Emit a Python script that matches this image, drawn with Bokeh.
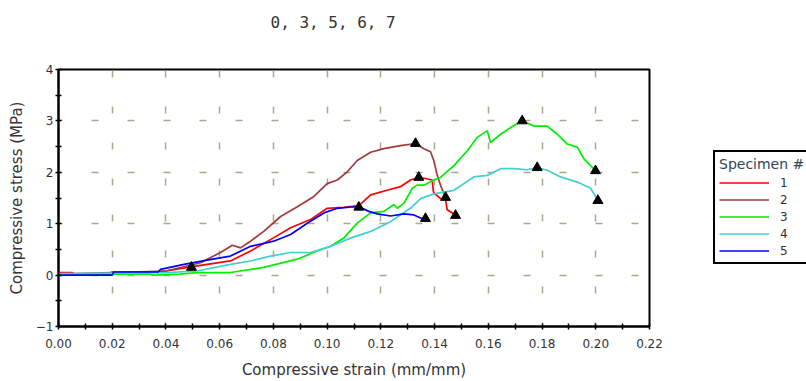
from bokeh.plotting import figure
from bokeh.layouts import row
from bokeh.models import (FixedTicker, Legend, LegendItem, NumeralTickFormatter, Range1d, Title)
from bokeh.embed import file_html
from bokeh.resources import INLINE

# ---- data ----
specimen_labels = ["1", "2", "3", "4", "5"]
series_colors = ["#ff0000", "#a33a3a", "#00ee00", "#40d0d0", "#0000ff"]

s1_x = [0, 0.005, 0.007, 0.018, 0.020, 0.036, 0.040, 0.0516, 0.064, 0.0715, 0.0789, 0.0864, 0.0938, 0.1000,
        0.1062, 0.1118, 0.1162, 0.1223, 0.1273, 0.1310, 0.1341, 0.1366, 0.1391, 0.1395, 0.1397, 0.1422,
        0.1441, 0.1447, 0.1466, 0.1478]
s1_y = [0.05, 0.05, 0.0, 0.0, 0.06, 0.06, 0.08, 0.18, 0.275, 0.47, 0.69, 0.92, 1.08, 1.30,
        1.32, 1.35, 1.56, 1.65, 1.72, 1.85, 1.90, 1.88, 1.85, 1.65, 1.60, 1.49,
        1.46, 1.27, 1.21, 1.16]

s2_x = [0, 0.02, 0.04, 0.0529, 0.0603, 0.0647, 0.0678, 0.0715, 0.0764, 0.0827, 0.0889, 0.0951, 0.1000,
        0.1038, 0.1075, 0.1112, 0.1162, 0.1211, 0.1273, 0.1329, 0.1360, 0.1385, 0.1397, 0.1410, 0.1422, 0.1441]
s2_y = [0.02, 0.05, 0.08, 0.24, 0.44, 0.58, 0.53, 0.66, 0.85, 1.14, 1.33, 1.53, 1.78,
        1.85, 2.01, 2.23, 2.39, 2.46, 2.52, 2.56, 2.46, 2.40, 2.23, 1.94, 1.75, 1.51]

s3_x = [0, 0.034, 0.035, 0.045, 0.0516, 0.064, 0.0764, 0.0889, 0.0963, 0.1013, 0.1062, 0.1112, 0.1162,
        0.1211, 0.1248, 0.1261, 0.1286, 0.1317, 0.1335, 0.1360, 0.1397, 0.1422, 0.1472, 0.1522, 0.1559,
        0.1596, 0.1608, 0.1646, 0.1683, 0.1726, 0.1770, 0.1819, 0.1857, 0.1894, 0.1931, 0.1956, 0.1999]
s3_y = [0.02, 0.02, 0.0, 0.02, 0.05, 0.05, 0.15, 0.31, 0.47, 0.56, 0.72, 1.01, 1.21,
        1.24, 1.37, 1.30, 1.40, 1.69, 1.75, 1.75, 1.85, 1.90, 2.13, 2.42, 2.68,
        2.81, 2.58, 2.74, 2.87, 3.00, 2.90, 2.90, 2.74, 2.55, 2.49, 2.26, 2.03]

s4_x = [0, 0.04, 0.0516, 0.064, 0.0715, 0.0789, 0.0864, 0.0938, 0.1013, 0.1087, 0.1162, 0.1236, 0.1310,
        0.1348, 0.1397, 0.1472, 0.1546, 0.1596, 0.1646, 0.1695, 0.1745, 0.1782, 0.1819, 0.1869, 0.1931,
        0.1981, 0.2008]
s4_y = [0.03, 0.05, 0.08, 0.21, 0.275, 0.37, 0.44, 0.44, 0.56, 0.72, 0.85, 1.04, 1.30,
        1.49, 1.58, 1.65, 1.91, 1.94, 2.07, 2.07, 2.05, 2.09, 2.04, 1.91, 1.81,
        1.69, 1.45]

s5_x = [0, 0.020, 0.0205, 0.037, 0.038, 0.0467, 0.0553, 0.064, 0.0715, 0.0801, 0.0864, 0.0926, 0.0988,
        0.1038, 0.1099, 0.1131, 0.1155, 0.1187, 0.1236, 0.1286, 0.1323, 0.1348, 0.1366]
s5_y = [0, 0, 0.06, 0.06, 0.11, 0.21, 0.29, 0.37, 0.56, 0.66, 0.79, 1.01, 1.21,
        1.30, 1.33, 1.30, 1.24, 1.19, 1.15, 1.19, 1.17, 1.11, 1.09]

marker_x = [0.0495, 0.1329, 0.1341, 0.1118, 0.1366, 0.1441, 0.1478, 0.1726, 0.1782, 0.1999, 0.2008]
marker_y = [0.15, 2.56, 1.90, 1.32, 1.10, 1.51, 1.16, 3.00, 2.09, 2.03, 1.45]

x_ticks = [0.00, 0.02, 0.04, 0.06, 0.08, 0.10, 0.12, 0.14, 0.16, 0.18, 0.20, 0.22]
x_minor = [0.01, 0.03, 0.05, 0.07, 0.09, 0.11, 0.13, 0.15, 0.17, 0.19, 0.21]
y_ticks = [-1, 0, 1, 2, 3, 4]
y_minor = [-0.5, 0.5, 1.5, 2.5, 3.5]

title_text = "0, 3, 5, 6, 7"
x_title = "Compressive strain (mm/mm)"
y_title = "Compressive stress (MPa)"
legend_title = "Specimen #"

FONT = "DejaVu Sans"
TXT = "#333333"

p = figure(width=700, height=381, output_backend="svg", toolbar_location=None,
           x_range=Range1d(0, 0.22), y_range=Range1d(-1, 4),
           min_border_left=58, min_border_right=51, min_border_top=69, min_border_bottom=54)

p.title.text = title_text
p.title.align = "left"
p.title.offset = 212
p.title.text_font = "DejaVu Sans Mono"
p.title.text_font_size = "16px"
p.title.text_font_style = "normal"
p.title.text_color = TXT
p.title.standoff = 0

# spacing between title and the plot frame
p.add_layout(Title(text=" ", text_font_size="16px", standoff=19), "above")

p.outline_line_color = "black"
p.outline_line_width = 2
p.outline_line_alpha = 1

for ax in (p.xaxis[0], p.yaxis[0]):
    ax.axis_line_color = "black"
    ax.axis_line_width = 2
    ax.major_tick_line_color = "black"
    ax.minor_tick_line_color = "black"
    ax.major_tick_line_width = 1.5
    ax.minor_tick_line_width = 1.5
    ax.major_tick_in = 3
    ax.major_tick_out = 3
    ax.minor_tick_in = 3
    ax.minor_tick_out = 3
    ax.major_label_text_font = FONT
    ax.major_label_text_font_size = "12px"
    ax.major_label_text_color = TXT
    ax.axis_label_text_font = FONT
    ax.axis_label_text_font_size = "15px"
    ax.axis_label_text_font_style = "normal"
    ax.axis_label_text_color = TXT

p.xaxis.ticker = FixedTicker(ticks=x_ticks, minor_ticks=x_minor)
p.yaxis.ticker = FixedTicker(ticks=y_ticks, minor_ticks=y_minor)
p.xaxis.formatter = NumeralTickFormatter(format="0.00")
p.xaxis.axis_label = x_title
p.yaxis.axis_label = y_title
p.xaxis.major_label_standoff = 9
p.xaxis.axis_label_standoff = 10
p.yaxis.major_label_standoff = 2
p.yaxis.axis_label_standoff = 7

for g in (p.xgrid[0], p.ygrid[0]):
    g.grid_line_color = "#aba591"
    g.grid_line_width = 1.5
    g.grid_line_dash = "7 29"
    g.grid_line_dash_offset = 3

series = [(s1_x, s1_y), (s2_x, s2_y), (s3_x, s3_y), (s4_x, s4_y), (s5_x, s5_y)]
for (xs, ys), c in zip(series, series_colors):
    p.line(xs, ys, line_color=c, line_width=1.7)

p.scatter(marker_x, marker_y, marker="triangle", size=10, fill_color="black", line_color="black")

# ---- legend panel (separate figure to the right; its view range hides the lines) ----
q = figure(width=106, height=381, output_backend="svg", toolbar_location=None,
           x_range=Range1d(10, 11), y_range=Range1d(10, 11),
           x_axis_type=None, y_axis_type=None,
           min_border_left=0, min_border_right=0, min_border_top=0, min_border_bottom=0)
q.outline_line_color = None
q.xgrid.visible = False
q.ygrid.visible = False

items = []
for (xs, ys), c, lab in zip(series, series_colors, specimen_labels):
    r = q.line(xs, ys, line_color=c, line_width=1.7)
    items.append(LegendItem(label=lab, renderers=[r]))

legend = Legend(items=items, title=legend_title, location=(13, 62))
legend.title_text_font = FONT
legend.title_text_font_size = "14px"
legend.title_text_font_style = "normal"
legend.title_text_color = "#334455"
legend.title_standoff = 3
legend.label_text_font = FONT
legend.label_text_font_size = "12px"
legend.label_text_color = TXT
legend.glyph_width = 50
legend.glyph_height = 15
legend.label_height = 15
legend.label_standoff = 11
legend.spacing = 2
legend.padding = 4
legend.margin = 0
legend.border_line_color = "black"
legend.border_line_alpha = 1
legend.border_line_width = 2
legend.background_fill_alpha = 1
q.add_layout(legend, "center")

layout = row(p, q, spacing=0)
open("out.html", "w").write(file_html(layout, INLINE))
